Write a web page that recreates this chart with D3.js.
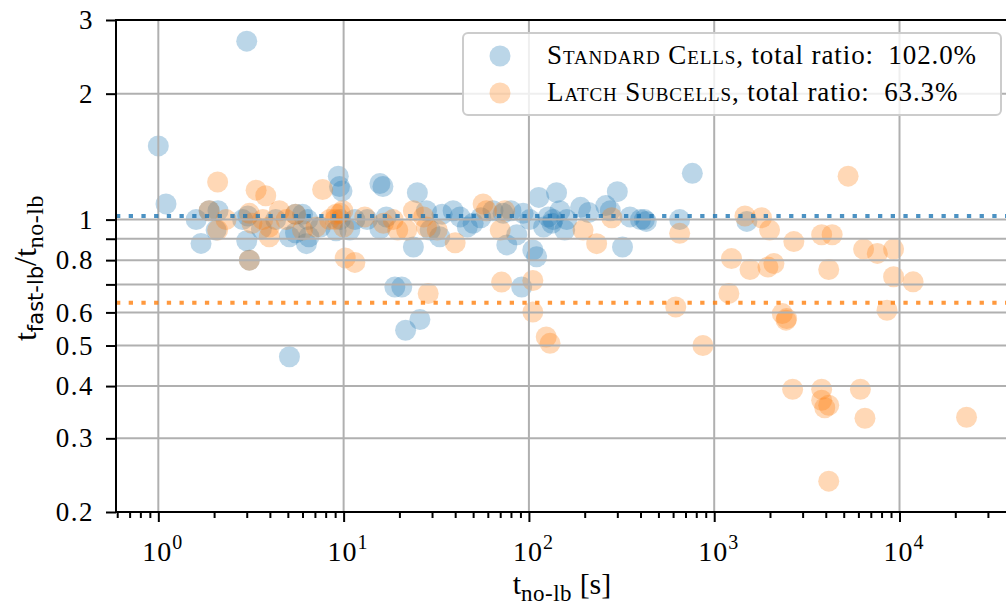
<!DOCTYPE html>
<html>
<head>
<meta charset="utf-8">
<script src="https://cdn.jsdelivr.net/npm/d3@7"></script>
<style>
  body { margin: 0; background: #fff; }
  text { font-family: "Liberation Serif", serif; fill: #000; }
</style>
</head>
<body>
<svg id="chart" width="1006" height="609"></svg>
<script>
// Standard cells: t_no-lb [s] and ratio t_fast-lb / t_no-lb
const standardTime = [1.0, 1.1, 3.0, 1.6, 1.7, 1.88, 2.05, 2.1, 2.85, 3.0, 3.04, 3.1, 3.6, 4.3, 5.1, 5.1,
  5.5, 5.5, 6.0, 6.3, 6.5, 6.4, 7.5, 9.1, 9.36, 9.5, 9.8, 9.6, 10.8, 11.5, 13.4, 15.7, 16.3, 15.7, 17,
  18.9, 20.6, 21.6, 23.8, 25.8, 25, 28, 29.3, 33, 34, 39, 42.5, 46.5, 50, 55, 64, 72.6, 76, 80, 86, 91.4,
  93, 101, 105, 110, 113, 120, 127, 133, 135, 141, 147, 156, 160, 190, 210, 260, 275, 300, 320, 351, 400,
  420, 430, 651, 762, 1500];
const standardRatio = [1.5, 1.09, 2.67, 1.0, 0.877, 1.05, 0.944, 1.05, 1.0, 0.89, 1.02, 0.8, 0.95, 1.0, 0.47, 0.91,
  1.03, 0.93, 1.03, 0.876, 0.91, 1.0, 0.96, 0.94, 1.27, 1.2, 1.17, 1.0, 0.944, 1.0, 1.0, 1.22, 1.2, 0.95, 1.015,
  0.69, 0.69, 0.544, 0.86, 0.577, 1.16, 1.05, 0.944, 0.91, 1.03, 1.05, 1.015, 0.96, 0.98, 1.01, 1.05, 1.035, 0.87, 1.05, 0.92, 0.69,
  1.035, 1.0, 0.846, 0.815, 1.13, 0.96, 1.015, 0.98, 1.0, 1.16, 1.05, 0.944, 1.0, 1.07, 1.04, 1.08, 1.05, 1.166, 0.86, 1.015, 1.0,
  1.0, 0.99, 1.0, 1.29, 0.99];

// Latch subcells
const latchTime = [1.88, 2.09, 2.09, 2.32, 3.1, 3.1, 3.2, 3.37, 3.66, 3.8, 3.97, 3.97, 4.5, 4.9, 5.5, 6.0, 7.1,
  7.7, 8.4, 9.0, 9.1, 9.6, 9.9, 10, 10.2, 11.5, 13, 16.4, 18.5, 19.6, 21.9, 23.8, 27, 28, 28.6, 32, 40, 56.6,
  59, 70, 71.2, 74, 105, 105, 124, 130, 196, 232, 280, 620, 651, 869, 1200, 1240, 1465, 1560, 1800, 1950, 1990,
  2100, 2330, 2440, 2460, 2650, 2690, 3800, 3800, 3950, 4150, 4150, 4150, 3800, 4330, 5280, 6150, 6400, 6510,
  7590, 8560, 9290, 9290, 11840, 23000];
const latchRatio = [1.05, 1.23, 0.944, 1.0, 0.8, 1.035, 0.98, 1.176, 1.0, 1.14, 0.96, 0.91, 1.05, 1.0, 1.03, 0.944, 0.96,
  1.18, 1.0, 1.0, 1.03, 1.035, 1.05, 0.96, 0.81, 0.79, 1.015, 0.98, 1.0, 0.944, 0.944, 1.05, 1.015, 0.96, 0.666, 0.944, 0.88, 1.09,
  1.05, 0.944, 0.709, 1.05, 0.715, 0.601, 0.524, 0.506, 0.944, 0.876, 1.01, 0.618, 0.927, 0.5, 0.666, 0.807, 1.02, 0.76, 1.01, 0.77, 0.944,
  0.785, 0.596, 0.575, 0.58, 0.393, 0.886, 0.393, 0.37, 0.355, 0.36, 0.76, 0.237, 0.92, 0.92, 1.27, 0.393, 0.85, 0.335,
  0.83, 0.607, 0.85, 0.73, 0.71, 0.337];

const seriesNames = ["Standard Cells", "Latch Subcells"];
const totalRatios = [1.020, 0.633];
const seriesColors = ["#1f77b4", "#ff7f0e"];

const ratioTicks = [3, 2, 1, 0.9, 0.8, 0.7, 0.6, 0.5, 0.4, 0.3, 0.2];
const ratioTickLabels = ["3", "2", "1", "", "0.8", "", "0.6", "0.5", "0.4", "0.3", "0.2"];
const timeDecades = [1, 10, 100, 1000, 10000];
const timeExponents = ["0", "1", "2", "3", "4"];

const margin = {left: 116, top: 20, right: 1006, bottom: 512};
const svg = d3.select("#chart");

const x = d3.scaleLog().domain([0.591, 37560]).range([margin.left, margin.right]);
const y = d3.scaleLog().domain([0.2, 3]).range([margin.bottom, margin.top]);

svg.append("clipPath").attr("id", "plotclip")
  .append("rect")
  .attr("x", margin.left).attr("y", margin.top)
  .attr("width", margin.right - margin.left).attr("height", margin.bottom - margin.top);

// scatter points (blue first, orange on top)
const series = [
  standardTime.map((t, i) => ({t: t, r: standardRatio[i]})),
  latchTime.map((t, i) => ({t: t, r: latchRatio[i]}))
];
const dots = svg.append("g").attr("clip-path", "url(#plotclip)");
series.forEach((pts, k) => {
  dots.append("g").selectAll("circle")
    .data(pts).join("circle")
    .attr("cx", d => x(d.t))
    .attr("cy", d => y(d.r))
    .attr("r", 10.5)
    .attr("fill", seriesColors[k])
    .attr("fill-opacity", 0.3);
});

// grid above the scatter
const grid = svg.append("g").attr("stroke", "#b0b0b0").attr("stroke-width", 2);
grid.selectAll(".h").data(ratioTicks.filter(v => v < 3 && v > 0.2)).join("line")
  .attr("x1", margin.left).attr("x2", margin.right)
  .attr("y1", d => y(d)).attr("y2", d => y(d));
grid.selectAll(".v").data(timeDecades).join("line")
  .attr("x1", d => x(d)).attr("x2", d => x(d))
  .attr("y1", margin.top).attr("y2", margin.bottom);

// total ratio dotted lines
svg.append("g").selectAll("line").data(totalRatios).join("line")
  .attr("x1", margin.left).attr("x2", margin.right)
  .attr("y1", d => y(d)).attr("y2", d => y(d))
  .attr("stroke", (d, i) => seriesColors[i])
  .attr("stroke-opacity", 0.8)
  .attr("stroke-width", 4)
  .attr("stroke-dasharray", "4.3 8.4");

// y axis
const yAxis = d3.axisLeft(y).tickValues(ratioTicks).tickSize(10).tickPadding(12)
  .tickFormat((d, i) => ratioTickLabels[i]);
const yg = svg.append("g").attr("transform", `translate(${margin.left},0)`).call(yAxis);
yg.select(".domain").remove();
yg.selectAll(".tick line").attr("stroke", "#000").attr("stroke-width", 2);
yg.selectAll(".tick text").attr("font-family", "Liberation Serif, serif").attr("font-size", 27)
  .attr("letter-spacing", 1.5).attr("fill", "#000");

// x axis: major + minor ticks
const minorTicks = [];
[0.1, 1, 10, 100, 1000, 10000].forEach(dec => {
  for (let m = 2; m <= 9; m++) {
    const v = dec * m;
    if (v > x.domain()[0] && v < x.domain()[1]) minorTicks.push(v);
  }
});
const xMinor = d3.axisBottom(x).tickValues(minorTicks).tickSize(6).tickFormat("");
const xMajor = d3.axisBottom(x).tickValues(timeDecades).tickSize(10).tickFormat("");
const xg1 = svg.append("g").attr("transform", `translate(0,${margin.bottom})`).call(xMinor);
const xg2 = svg.append("g").attr("transform", `translate(0,${margin.bottom})`).call(xMajor);
[xg1, xg2].forEach(g => {
  g.select(".domain").remove();
  g.selectAll(".tick line").attr("stroke", "#000").attr("stroke-width", 2);
});

const xLabels = svg.append("g").selectAll("text").data(timeDecades).join("text")
  .attr("x", d => x(d) + 4)
  .attr("y", 561)
  .attr("text-anchor", "middle")
  .attr("font-size", 28);
xLabels.append("tspan").attr("letter-spacing", 1).text("10");
xLabels.append("tspan").attr("dy", -12).attr("font-size", 20).text((d, i) => timeExponents[i]);

// spines
const spines = svg.append("g").attr("stroke", "#000").attr("stroke-width", 2).attr("stroke-linecap", "square");
spines.append("line").attr("x1", margin.left).attr("x2", margin.left).attr("y1", margin.top).attr("y2", margin.bottom);
spines.append("line").attr("x1", margin.left).attr("x2", margin.right).attr("y1", margin.bottom).attr("y2", margin.bottom);
spines.append("line").attr("x1", margin.left).attr("x2", margin.right).attr("y1", margin.top).attr("y2", margin.top);

// axis labels
const xl = svg.append("text").attr("x", 562).attr("y", 594).attr("text-anchor", "middle").attr("font-size", 30);
xl.append("tspan").text("t");
xl.append("tspan").attr("dy", 7).attr("font-size", 23).attr("letter-spacing", 0.5).text("no-lb");
xl.append("tspan").attr("dy", -7).text(" [s]");

const yl = svg.append("text").attr("transform", "translate(36,268) rotate(-90)")
  .attr("text-anchor", "middle").attr("font-size", 32);
yl.append("tspan").text("t");
yl.append("tspan").attr("dy", 7).attr("font-size", 21).attr("font-family", "DejaVu Sans, sans-serif").text("fast-lb");
yl.append("tspan").attr("dy", -7).text("/t");
yl.append("tspan").attr("dy", 7).attr("font-size", 24).attr("letter-spacing", 0.5).text("no-lb");

// legend
const legend = svg.append("g");
legend.append("rect")
  .attr("x", 463).attr("y", 33).attr("width", 538).attr("height", 82).attr("rx", 5)
  .attr("fill", "#fff").attr("fill-opacity", 0.8)
  .attr("stroke", "#cccccc").attr("stroke-width", 2);
seriesNames.forEach((name, i) => {
  const cy = 56 + i * 37;
  legend.append("circle").attr("cx", 500).attr("cy", cy).attr("r", 10.5)
    .attr("fill", seriesColors[i]).attr("fill-opacity", 0.3);
  const t = legend.append("text").attr("x", 547).attr("y", cy + 8).attr("font-size", 27)
    .attr("letter-spacing", 0.9);
  t.append("tspan").style("font-variant", "small-caps").text(name);
  t.append("tspan").text(", total ratio:\u2002" + (totalRatios[i] * 100).toFixed(1) + "%");
});
</script>
</body>
</html>
